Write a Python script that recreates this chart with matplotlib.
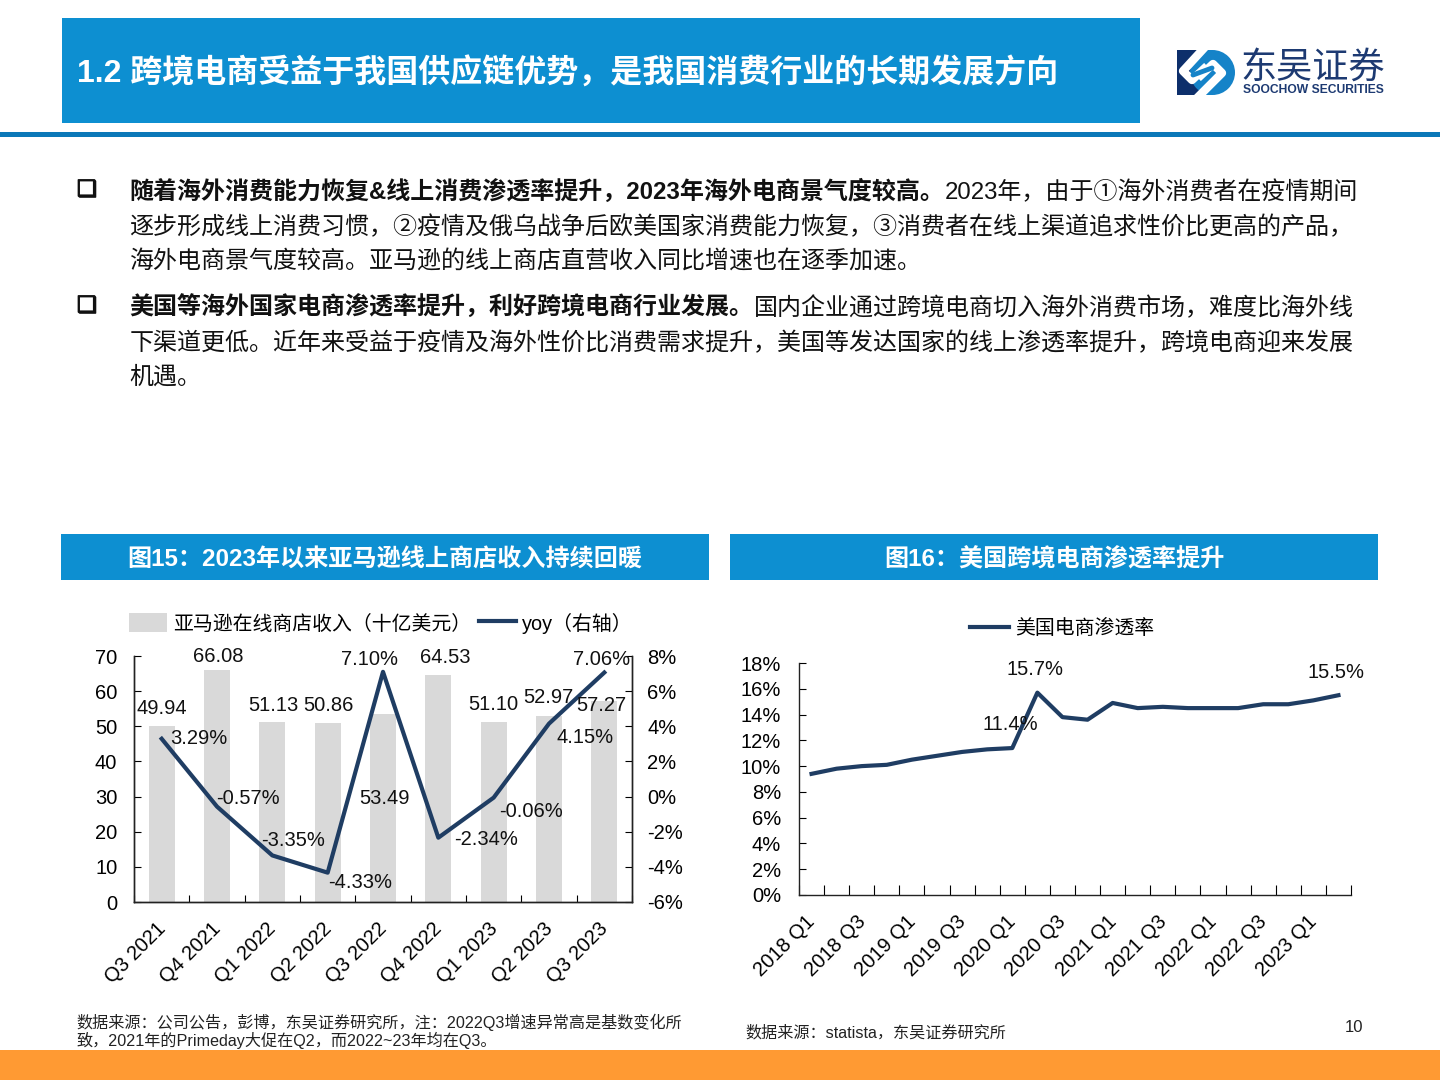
import matplotlib
matplotlib.use("Agg")
import matplotlib.pyplot as plt
import matplotlib.patheffects as pe
from matplotlib.patches import Rectangle, Circle
from matplotlib.transforms import ScaledTranslation

plt.rcParams['font.family'] = ['Liberation Sans', 'Noto Sans CJK SC', 'DejaVu Sans']

NAVY = "#1f3d63"
BLUE = "#0d8fd1"
W, H = 1440, 1080

# chart 15
quarters = ["Q3 2021", "Q4 2021", "Q1 2022", "Q2 2022", "Q3 2022",
            "Q4 2022", "Q1 2023", "Q2 2023", "Q3 2023"]
revenue = [49.94, 66.08, 51.13, 50.86, 53.49, 64.53, 51.10, 52.97, 57.27]
yoy = [3.29, -0.57, -3.35, -4.33, 7.10, -2.34, -0.06, 4.15, 7.06]

# chart 16
periods = ["2018 Q1", "2018 Q2", "2018 Q3", "2018 Q4", "2019 Q1", "2019 Q2",
           "2019 Q3", "2019 Q4", "2020 Q1", "2020 Q2", "2020 Q3", "2020 Q4",
           "2021 Q1", "2021 Q2", "2021 Q3", "2021 Q4", "2022 Q1", "2022 Q2",
           "2022 Q3", "2022 Q4", "2023 Q1", "2023 Q2"]
penetration = [9.4, 9.8, 10.0, 10.1, 10.5, 10.8, 11.1, 11.3, 11.4, 15.7, 13.8,
               13.6, 14.9, 14.5, 14.6, 14.5, 14.5, 14.5, 14.8, 14.8, 15.1, 15.5]

# label offsets in pixels from the mark
rev_offsets = [(0, 18), (1, 13), (1, 17), (1, 18), (1, -84), (7, 18), (0, 18), (-1, 18), (-3, -5)]
yoy_offsets = [(37, 0), (31, 8), (21, 15), (32, -10), (-13, 12), (48, -2), (37, -14), (36, -14), (-3, 13)]
pen_labels = {8: (-2, 24), 9: (-2, 23), 21: (-2, 23)}


def axes_px(left, top, right, bottom):
    return fig.add_axes([left / W, 1 - bottom / H, (right - left) / W, (bottom - top) / H])


def style_axis(ax):
    ax.spines["top"].set_visible(False)
    for s in ax.spines.values():
        s.set_linewidth(1.0)
        s.set_color("#222222")
    ax.patch.set_alpha(0)


def shift_labels(labels, dx_px):
    # rotated labels sit a bit left of the tick in the original
    for lab in labels:
        lab.set_transform(lab.get_transform() + ScaledTranslation(dx_px / 100, 0, fig.dpi_scale_trans))


fig = plt.figure(figsize=(W / 100, H / 100), dpi=100)

# page furniture, drawn in pixel coordinates
page = fig.add_axes([0, 0, 1, 1], zorder=0)
page.set_xlim(0, W)
page.set_ylim(H, 0)
page.axis("off")

page.add_patch(Rectangle((62, 18), 1078, 105, color=BLUE, lw=0))
page.add_patch(Rectangle((0, 132), W, 5, color="#0b78b8", lw=0))
page.add_patch(Rectangle((0, 1050), W, 30, color="#ff9a33", lw=0))
page.add_patch(Rectangle((61, 534), 648, 46, color=BLUE, lw=0))
page.add_patch(Rectangle((730, 534), 648, 46, color=BLUE, lw=0))

page.text(77, 73.5, "1.2 跨境电商受益于我国供应链优势，是我国消费行业的长期发展方向",
          color="white", fontsize=23, fontweight="bold", va="center")
page.text(385, 560, "图15：2023年以来亚马逊线上商店收入持续回暖",
          color="white", fontsize=17.35, fontweight="bold", va="center", ha="center")
page.text(1054, 560, "图16：美国跨境电商渗透率提升",
          color="white", fontsize=17.35, fontweight="bold", va="center", ha="center")

# logo
page.add_patch(Rectangle((1177, 50), 28, 45, color="#0d2f6b", lw=0))
page.add_patch(Rectangle((1205, 50), 8, 45, color="#1583c8", lw=0))
page.add_patch(Circle((1212.5, 72.5), 22.5, color="#1583c8", lw=0))
page.plot([1206, 1183, 1192, 1207], [46, 71, 80, 66], color="white", lw=6,
          solid_capstyle="butt", solid_joinstyle="round")
page.plot([1196, 1222, 1213, 1198], [99, 73, 64, 78], color="white", lw=6,
          solid_capstyle="butt", solid_joinstyle="round")
page.plot([1193, 1212], [75, 68], color="#1583c8", lw=3.5, solid_capstyle="round")
page.text(1313, 68.5, "东吴证券", color="#1d3a72", fontsize=26, ha="center", va="center")
page.text(1313, 90, "SOOCHOW SECURITIES", color="#1d3a72", fontsize=8.7,
          fontweight="bold", ha="center", va="center")

# body text: (x, y, text, bold)
body_runs = [
    (129.5, 192, "随着海外消费能力恢复&线上消费渗透率提升，2023年海外电商景气度较高。", True),
    (945, 192, "2023年，由于①海外消费者在疫情期间", False),
    (129.5, 227, "逐步形成线上消费习惯，②疫情及俄乌战争后欧美国家消费能力恢复，③消费者在线上渠道追求性价比更高的产品，", False),
    (129.5, 261, "海外电商景气度较高。亚马逊的线上商店直营收入同比增速也在逐季加速。", False),
    (129.5, 308, "美国等海外国家电商渗透率提升，利好跨境电商行业发展。", True),
    (754, 308, "国内企业通过跨境电商切入海外消费市场，难度比海外线", False),
    (129.5, 343, "下渠道更低。近年来受益于疫情及海外性价比消费需求提升，美国等发达国家的线上渗透率提升，跨境电商迎来发展", False),
    (129.5, 377, "机遇。", False),
]
for x, y, txt, bold in body_runs:
    page.text(x, y, txt, fontsize=17.3, va="center", color="#111111",
              fontweight="bold" if bold else "normal")
for y in (190, 306):
    page.text(87, y, "❑", fontsize=16, fontweight="bold", ha="center", va="center",
              family="DejaVu Sans", color="#111111",
              path_effects=[pe.withStroke(linewidth=1.0, foreground="#111111")])

page.text(76, 1022.5, "数据来源：公司公告，彭博，东吴证券研究所，注：2022Q3增速异常高是基数变化所",
          fontsize=11.6, va="center", color="#222222")
page.text(76, 1040.5, "致，2021年的Primeday大促在Q2，而2022~23年均在Q3。",
          fontsize=11.6, va="center", color="#222222")
page.text(745, 1032.5, "数据来源：statista，东吴证券研究所", fontsize=11.6, va="center", color="#222222")
page.text(1354, 1027, "10", fontsize=12, ha="center", va="center", color="#222222")

# chart 15
ax1 = axes_px(134, 656, 632, 902)
x1 = list(range(len(quarters)))
bars = ax1.bar(x1, revenue, width=0.47, color="#d9d9d9", label="亚马逊在线商店收入（十亿美元）")
ax1.set_xlim(-0.5, 8.5)
ax1.set_ylim(0, 70)
ax1.set_yticks(range(0, 71, 10))
ax1.set_xticks([i - 0.5 for i in range(10)])
ax1.set_xticklabels([])
ax1.set_xticks(x1, minor=True)
ax1.set_xticklabels(quarters, minor=True, rotation=45, ha="right", rotation_mode="anchor")
ax1.tick_params(axis="x", which="major", direction="in", length=5)
ax1.tick_params(axis="x", which="minor", length=0, pad=12, labelsize=14.5)
ax1.tick_params(axis="y", direction="in", length=5, labelsize=14.5, pad=12)
shift_labels(ax1.get_xticklabels(minor=True), -6)
style_axis(ax1)

ax1r = ax1.twinx()
line1, = ax1r.plot(x1, yoy, color=NAVY, lw=3, label="yoy（右轴）")
ax1r.set_ylim(-6, 8)
ax1r.set_yticks(range(-6, 9, 2))
ax1r.set_yticklabels([f"{v}%" for v in range(-6, 9, 2)])
ax1r.tick_params(axis="y", direction="in", length=5, labelsize=14.5, pad=11)
style_axis(ax1r)

for i, v in enumerate(revenue):
    ax1r.annotate(f"{v:.2f}", xy=(i, v), xycoords=ax1.transData, xytext=rev_offsets[i],
                  textcoords="offset pixels", ha="center", va="center", fontsize=14.5, color="#111111")
for i, v in enumerate(yoy):
    ax1r.annotate(f"{v:.2f}%", xy=(i, v), xytext=yoy_offsets[i],
                  textcoords="offset pixels", ha="center", va="center", fontsize=14.5, color="#111111")

fig.legend([bars, line1], [bars.get_label(), line1.get_label()], ncol=2, frameon=False,
           loc="center", bbox_to_anchor=(381 / W, 1 - 623 / H), fontsize=14.3,
           handlelength=1.9, handleheight=1.1, handletextpad=0.3, columnspacing=0.4)

# chart 16
ax2 = axes_px(799, 663, 1351, 895)
x2 = list(range(len(periods)))
line2, = ax2.plot(x2, penetration, color=NAVY, lw=3, label="美国电商渗透率")
ax2.set_xlim(-0.5, 21.5)
ax2.set_ylim(0, 18)
ax2.set_yticks(range(0, 19, 2))
ax2.set_yticklabels([f"{v}%" for v in range(0, 19, 2)])
ax2.set_xticks([i - 0.5 for i in range(23)])
ax2.set_xticklabels([])
ax2.set_xticks(x2[::2], minor=True)
ax2.set_xticklabels(periods[::2], minor=True, rotation=45, ha="right", rotation_mode="anchor")
ax2.tick_params(axis="x", which="major", direction="in", length=7)
ax2.tick_params(axis="x", which="minor", length=0, pad=12, labelsize=14.5)
ax2.tick_params(axis="y", direction="in", length=5, labelsize=14.5, pad=13)
shift_labels(ax2.get_xticklabels(minor=True), -6)
style_axis(ax2)
ax2.spines["right"].set_visible(False)

for i, off in pen_labels.items():
    ax2.annotate(f"{penetration[i]:.1f}%", xy=(i, penetration[i]), xytext=off,
                 textcoords="offset pixels", ha="center", va="center", fontsize=14.5, color="#111111")

fig.legend([line2], [line2.get_label()], frameon=False, loc="center",
           bbox_to_anchor=(1062 / W, 1 - 628 / H), fontsize=14.3, handlelength=2.0, handletextpad=0.3)

fig.savefig("out.png", dpi=100)
